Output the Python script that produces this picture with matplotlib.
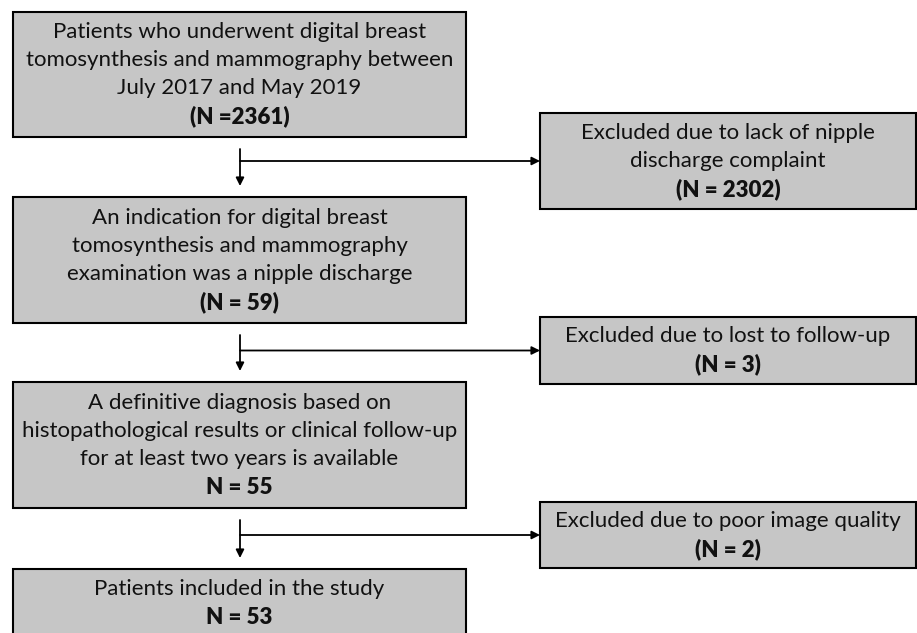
import matplotlib.pyplot as plt
from matplotlib.patches import Rectangle

# Textos del diagrama de flujo
main_steps = [
    ["Patients who underwent digital breast",
     "tomosynthesis and mammography between",
     "July 2017 and May 2019"],
    ["An indication for digital breast",
     "tomosynthesis and mammography",
     "examination was a nipple discharge"],
    ["A definitive diagnosis based on",
     "histopathological results or clinical follow-up",
     "for at least two years is available"],
    ["Patients included in the study"],
]
main_counts = ["(N =2361)", "(N = 59)", "N = 55", "N = 53"]

excl_reasons = [
    ["Excluded due to lack of nipple", "discharge complaint"],
    ["Excluded due to lost to follow-up"],
    ["Excluded due to poor image quality"],
]
excl_counts = ["(N = 2302)", "(N = 3)", "(N = 2)"]

# Geometria (pixeles de la figura)
W, H = 917, 633
left_x = (13, 466)
left_y = [(12, 137), (197, 323), (382, 508), (569, 650)]
right_x = (540, 916)
right_y = [(113, 209), (317, 384), (502, 568)]
arrow_x = 240
line_step = 28
fill = "#c6c6c6"
font = "Lato"
fs = 16

fig = plt.figure(figsize=(W / 100, H / 100), dpi=100)
ax = fig.add_axes([0, 0, 1, 1])
ax.set_xlim(0, W)
ax.set_ylim(H, 0)
ax.axis("off")


def draw_box(x, y, lines, count, centre=None):
    x0, x1 = x
    y0, y1 = y
    ax.add_patch(Rectangle((x0, y0), x1 - x0, y1 - y0, facecolor=fill,
                           edgecolor="black", linewidth=1.5))
    all_lines = lines + [count]
    cx = (x0 + x1) / 2
    cy = (y0 + y1) / 2 if centre is None else centre
    start = cy - line_step * (len(all_lines) - 1) / 2
    for i, txt in enumerate(all_lines):
        bold = i == len(all_lines) - 1
        ax.text(cx, start + i * line_step, txt, ha="center", va="center",
                fontsize=fs, family=font,
                fontweight="heavy" if bold else "normal", color="#111111")


for i, (lines, count) in enumerate(zip(main_steps, main_counts)):
    centre = 603 if i == 3 else None
    draw_box(left_x, left_y[i], lines, count, centre)

for i, (lines, count) in enumerate(zip(excl_reasons, excl_counts)):
    draw_box(right_x, right_y[i], lines, count)

# Flechas
for i in range(3):
    top = left_y[i][1] + 12
    tip = left_y[i + 1][0] - 11
    mid = (right_y[i][0] + right_y[i][1]) / 2
    ax.annotate("", xy=(arrow_x, tip), xytext=(arrow_x, top),
                arrowprops=dict(arrowstyle="-|>", color="black", lw=1.3,
                                mutation_scale=12, shrinkA=0, shrinkB=0))
    ax.annotate("", xy=(right_x[0], mid), xytext=(arrow_x, mid),
                arrowprops=dict(arrowstyle="-|>", color="black", lw=1.3,
                                mutation_scale=12, shrinkA=0, shrinkB=0))

fig.savefig("out.png", dpi=100)
